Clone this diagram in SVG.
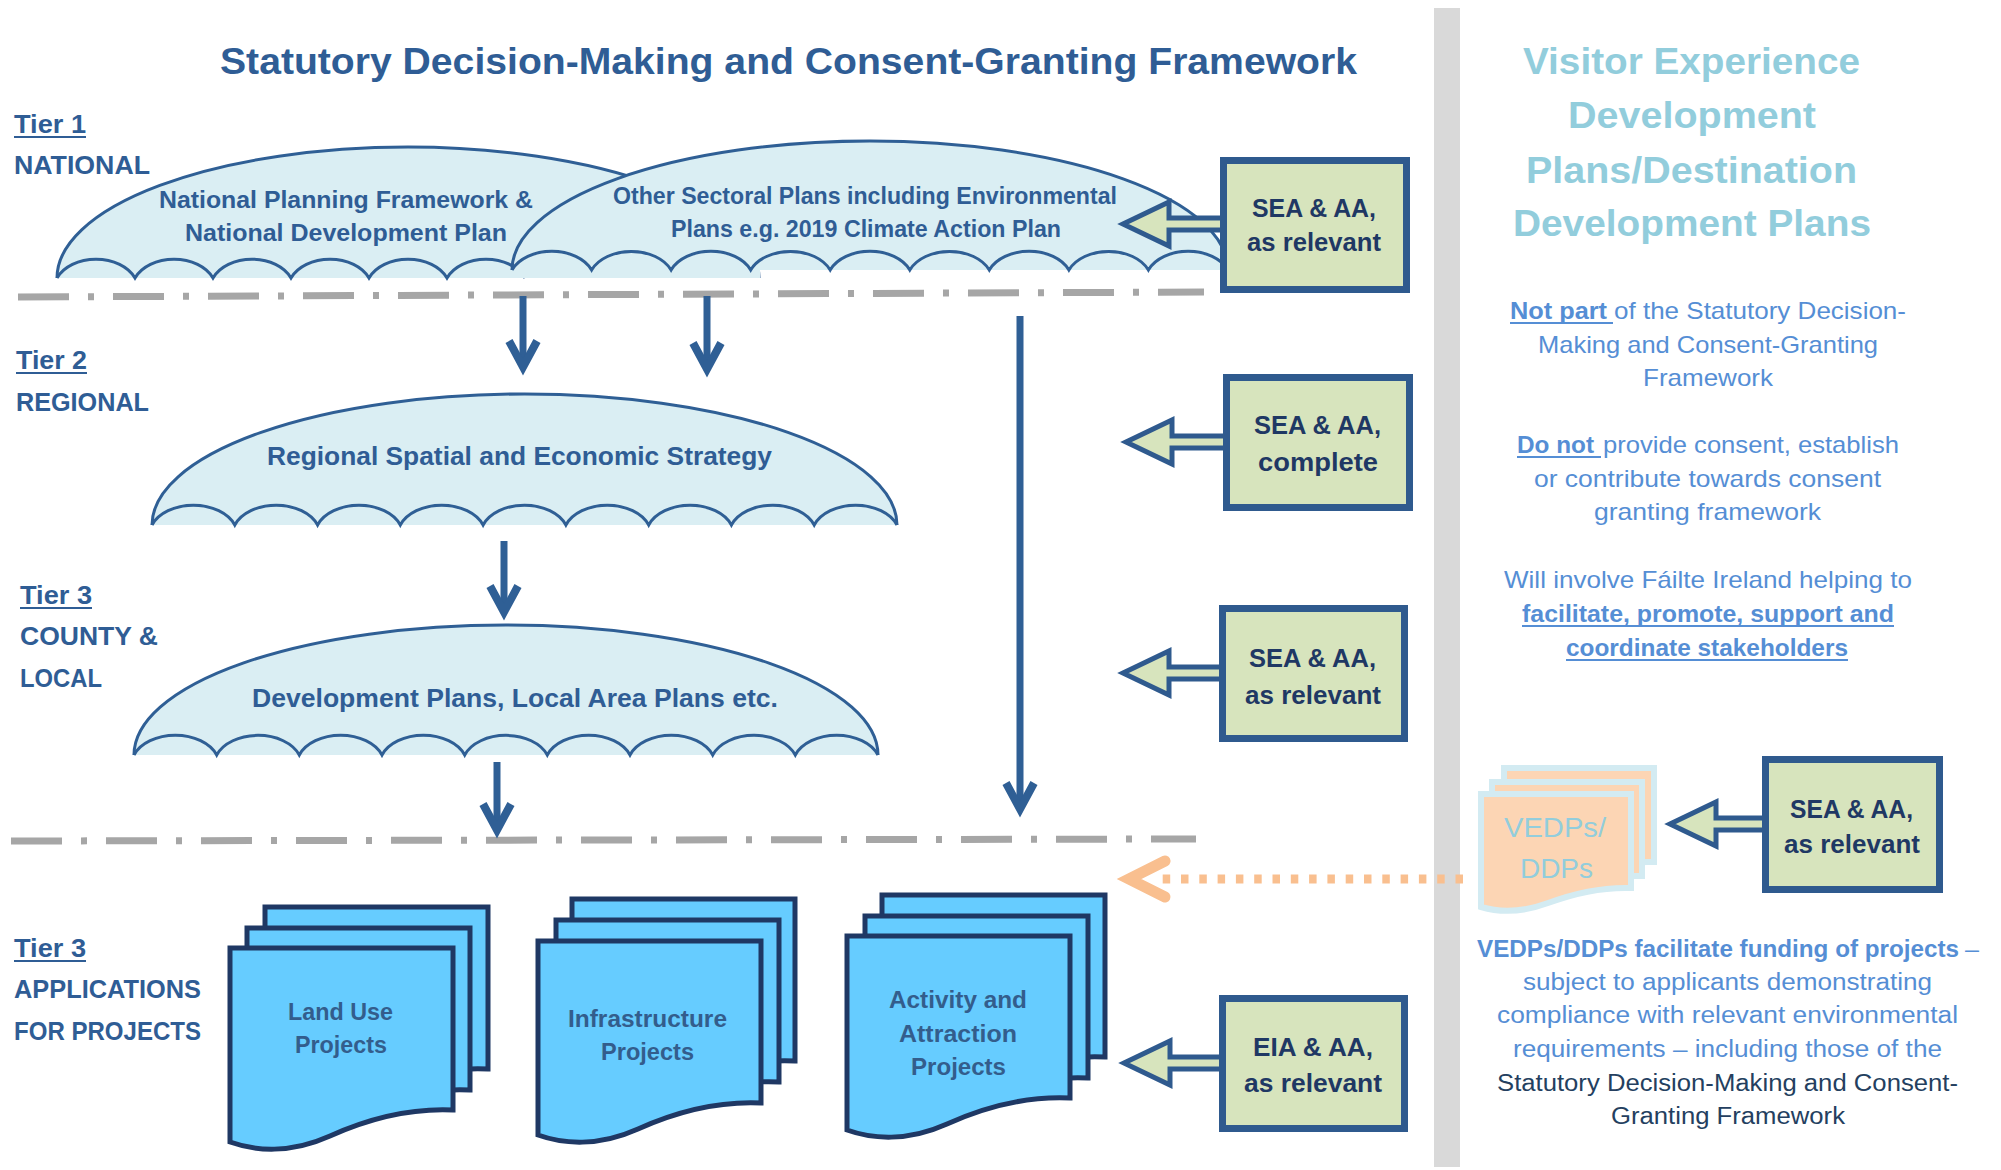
<svg xmlns="http://www.w3.org/2000/svg" xmlns:xlink="http://www.w3.org/1999/xlink" width="2001" height="1170" viewBox="0 0 2001 1170">
<style>
text{font-family:"Liberation Sans",Arial,sans-serif;}
.b{font-weight:bold}
.dk{fill:#2f5d95}
.tier{font-size:25px;font-weight:bold;fill:#2f5d95}
.ttl{font-size:36px;font-weight:bold}
.vis{fill:#92cddc}
.um{fill:#2f5d95;font-weight:bold}
.bxt{fill:#1f3864;font-size:25px;font-weight:bold}
.doct{fill:#335d8c;font-size:23px;font-weight:bold}
.p{fill:#558ed5;font-size:24px}
.p4{font-size:23px}
.nav{fill:#243f60}
.ul{stroke:#558ed5;stroke-width:2}
.tul{stroke:#2f5d95;stroke-width:2}
.dome{fill:#daeef3;stroke:none}
.domeline{fill:none;stroke:#2f5f95;stroke-width:3}
.box{fill:#d7e4bd;stroke:#2f5a8e;stroke-width:7}
.barrow{fill:#d7e4bd;stroke:#2f5a8e;stroke-width:5;stroke-linejoin:miter}
.doc{fill:#66ccff;stroke:#1f3864;stroke-width:5;stroke-linejoin:miter}
.vdoc{fill:#fcd5b4;stroke:#d3ebf2;stroke-width:6}
.dash{fill:none;stroke:#a6a6a6;stroke-width:7;stroke-dasharray:51 19 6 19}
.arr{fill:none;stroke:#2f5f95;stroke-width:7}
</style>
<defs>
<marker id="ah" markerUnits="userSpaceOnUse" viewBox="-40 -25 50 50" markerWidth="50" markerHeight="50" refX="0" refY="0" orient="auto" overflow="visible">
<path d="M-26,-14 L0,0 L-26,14" fill="none" stroke="#2f5f95" stroke-width="8" stroke-linejoin="miter"/>
</marker>
<path id="bar" d="M0,0 L46,-22 L46,-6 L106,-6 L106,6 L46,6 L46,22 Z"/>
<path id="pg" d="M0,0 H223 V162 C180,160 140,170 100,188 C60,206 25,203 0,194 Z"/>
<path id="vpg" d="M0,0 H150 V94 C121,93 94,99 67,109 C40,119 17,118 0,113 Z"/>
</defs>
<rect x="0" y="0" width="2001" height="1170" fill="#ffffff"/>
<rect id="divider" x="1434" y="8" width="26" height="1159" fill="#d9d9d9"/>

<g id="title">
<text class="ttl dk" x="220" y="74" textLength="1137" lengthAdjust="spacingAndGlyphs">Statutory Decision-Making and Consent-Granting Framework</text>
</g>

<g id="tier-labels">
<text class="tier" x="14" y="133" textLength="72" lengthAdjust="spacingAndGlyphs">Tier 1</text>
<line class="tul" x1="14" y1="137" x2="86" y2="137"/>
<text class="tier" x="14" y="174" textLength="136" lengthAdjust="spacingAndGlyphs">NATIONAL</text>
<text class="tier" x="16" y="369" textLength="71" lengthAdjust="spacingAndGlyphs">Tier 2</text>
<line class="tul" x1="16" y1="373" x2="87" y2="373"/>
<text class="tier" x="16" y="411" textLength="133" lengthAdjust="spacingAndGlyphs">REGIONAL</text>
<text class="tier" x="20" y="604" textLength="72" lengthAdjust="spacingAndGlyphs">Tier 3</text>
<line class="tul" x1="20" y1="608" x2="92" y2="608"/>
<text class="tier" x="20" y="645" textLength="138" lengthAdjust="spacingAndGlyphs">COUNTY &amp;</text>
<text class="tier" x="20" y="687" textLength="82" lengthAdjust="spacingAndGlyphs">LOCAL</text>
<text class="tier" x="14" y="957" textLength="72" lengthAdjust="spacingAndGlyphs">Tier 3</text>
<line class="tul" x1="14" y1="961" x2="86" y2="961"/>
<text class="tier" x="14" y="998" textLength="187" lengthAdjust="spacingAndGlyphs">APPLICATIONS</text>
<text class="tier" x="14" y="1040" textLength="187" lengthAdjust="spacingAndGlyphs">FOR PROJECTS</text>
</g>

<g id="umbrella-npf">
<path class="dome" d="M57,278 A351,131 0 0 1 759,278 Z"/>
<path class="domeline" d="M57,278 A351,131 0 0 1 759,278"/>
<path class="domeline" d="M57,278 A42,30 0 0 1 135,278 A42,30 0 0 1 213,278 A42,30 0 0 1 291,278 A42,30 0 0 1 369,278 A42,30 0 0 1 447,278 A42,30 0 0 1 525,278"/>
<text class="um" font-size="24" x="159" y="208" textLength="374" lengthAdjust="spacingAndGlyphs">National Planning Framework &amp;</text>
<text class="um" font-size="24" x="185" y="241" textLength="322" lengthAdjust="spacingAndGlyphs">National Development Plan</text>
</g>

<g id="umbrella-sectoral">
<path class="dome" d="M512,270 A358,129 0 0 1 1228,270 Z"/>
<rect class="dome" x="512" y="268" width="248" height="10"/>
<path class="domeline" d="M512,270 A358,129 0 0 1 1228,270"/>
<path class="domeline" d="M512,270 A43,30 0 0 1 591.6,270 A43,30 0 0 1 671.1,270 A43,30 0 0 1 750.7,270 A43,30 0 0 1 830.2,270 A43,30 0 0 1 909.8,270 A43,30 0 0 1 989.3,270 A43,30 0 0 1 1068.9,270 A43,30 0 0 1 1148.4,270 A43,30 0 0 1 1228,270"/>
<text class="um" font-size="24" x="613" y="204" textLength="504" lengthAdjust="spacingAndGlyphs">Other Sectoral Plans including Environmental</text>
<text class="um" font-size="24" x="671" y="237" textLength="390" lengthAdjust="spacingAndGlyphs">Plans e.g. 2019 Climate Action Plan</text>
</g>

<g id="umbrella-rses">
<path class="dome" d="M152,525 A372.5,131 0 0 1 897,525 Z"/>
<path class="domeline" d="M152,525 A372.5,131 0 0 1 897,525"/>
<path class="domeline" d="M152,525 A44,30 0 0 1 234.8,525 A44,30 0 0 1 317.6,525 A44,30 0 0 1 400.3,525 A44,30 0 0 1 483.1,525 A44,30 0 0 1 565.9,525 A44,30 0 0 1 648.7,525 A44,30 0 0 1 731.4,525 A44,30 0 0 1 814.2,525 A44,30 0 0 1 897,525"/>
<text class="um" font-size="25" x="267" y="465" textLength="505" lengthAdjust="spacingAndGlyphs">Regional Spatial and Economic Strategy</text>
</g>

<g id="umbrella-devplans">
<path class="dome" d="M134,755 A372,130 0 0 1 878,755 Z"/>
<path class="domeline" d="M134,755 A372,130 0 0 1 878,755"/>
<path class="domeline" d="M134,755 A44,30 0 0 1 216.7,755 A44,30 0 0 1 299.3,755 A44,30 0 0 1 382,755 A44,30 0 0 1 464.7,755 A44,30 0 0 1 547.3,755 A44,30 0 0 1 630,755 A44,30 0 0 1 712.7,755 A44,30 0 0 1 795.3,755 A44,30 0 0 1 878,755"/>
<text class="um" font-size="25" x="252" y="707" textLength="526" lengthAdjust="spacingAndGlyphs">Development Plans, Local Area Plans etc.</text>
</g>

<g id="connectors">
<path class="dash" d="M18,297 L1204,292"/>
<path class="dash" d="M11,841 L1196,839"/>
<line class="arr" x1="523" y1="296" x2="523" y2="367" marker-end="url(#ah)"/>
<line class="arr" x1="707" y1="296" x2="707" y2="369" marker-end="url(#ah)"/>
<line class="arr" x1="1020" y1="316" x2="1020" y2="809" marker-end="url(#ah)"/>
<line class="arr" x1="504" y1="541" x2="504" y2="612" marker-end="url(#ah)"/>
<line class="arr" x1="497" y1="762" x2="497" y2="830" marker-end="url(#ah)"/>
<line x1="1463" y1="879" x2="1160" y2="879" stroke="#f9bf8f" stroke-width="9" stroke-dasharray="7.5 10.8"/>
<path d="M1165,861 L1129,879 L1165,897" fill="none" stroke="#f9bf8f" stroke-width="11" stroke-linecap="round" stroke-linejoin="miter"/>
<use xlink:href="#bar" class="barrow" transform="translate(1123,224)"/>
<use xlink:href="#bar" class="barrow" transform="translate(1126,442)"/>
<use xlink:href="#bar" class="barrow" transform="translate(1123,673)"/>
<use xlink:href="#bar" class="barrow" transform="translate(1124,1063)"/>
<use xlink:href="#bar" class="barrow" transform="translate(1670,824)"/>
</g>

<g id="box-sea-national">
<rect class="box" x="1223.5" y="160.5" width="183" height="129"/>
<text class="bxt" x="1252" y="217" textLength="124" lengthAdjust="spacingAndGlyphs">SEA &amp; AA,</text>
<text class="bxt" x="1247" y="251" textLength="134" lengthAdjust="spacingAndGlyphs">as relevant</text>
</g>
<g id="box-sea-regional">
<rect class="box" x="1226.5" y="377.5" width="183" height="130"/>
<text class="bxt" x="1254" y="434" textLength="127" lengthAdjust="spacingAndGlyphs">SEA &amp; AA,</text>
<text class="bxt" x="1258" y="471" textLength="120" lengthAdjust="spacingAndGlyphs">complete</text>
</g>
<g id="box-sea-local">
<rect class="box" x="1222.5" y="608.5" width="182" height="130"/>
<text class="bxt" x="1249" y="667" textLength="127" lengthAdjust="spacingAndGlyphs">SEA &amp; AA,</text>
<text class="bxt" x="1245" y="704" textLength="136" lengthAdjust="spacingAndGlyphs">as relevant</text>
</g>
<g id="box-eia">
<rect class="box" x="1222.5" y="998.5" width="182" height="130"/>
<text class="bxt" x="1253" y="1056" textLength="120" lengthAdjust="spacingAndGlyphs">EIA &amp; AA,</text>
<text class="bxt" x="1244" y="1092" textLength="138" lengthAdjust="spacingAndGlyphs">as relevant</text>
</g>
<g id="box-sea-vedp">
<rect class="box" x="1765.5" y="759.5" width="174" height="130"/>
<text class="bxt" x="1790" y="818" textLength="123" lengthAdjust="spacingAndGlyphs">SEA &amp; AA,</text>
<text class="bxt" x="1784" y="853" textLength="136" lengthAdjust="spacingAndGlyphs">as relevant</text>
</g>

<g id="doc-landuse">
<use xlink:href="#pg" class="doc" transform="translate(265,907)"/>
<use xlink:href="#pg" class="doc" transform="translate(247,928)"/>
<use xlink:href="#pg" class="doc" transform="translate(230,948)"/>
<text class="doct" x="288" y="1020" textLength="105" lengthAdjust="spacingAndGlyphs">Land Use</text>
<text class="doct" x="295" y="1053" textLength="92" lengthAdjust="spacingAndGlyphs">Projects</text>
</g>
<g id="doc-infrastructure">
<use xlink:href="#pg" class="doc" transform="translate(572,899)"/>
<use xlink:href="#pg" class="doc" transform="translate(556,920)"/>
<use xlink:href="#pg" class="doc" transform="translate(538,941)"/>
<text class="doct" x="568" y="1027" textLength="159" lengthAdjust="spacingAndGlyphs">Infrastructure</text>
<text class="doct" x="601" y="1060" textLength="93" lengthAdjust="spacingAndGlyphs">Projects</text>
</g>
<g id="doc-activity">
<use xlink:href="#pg" class="doc" transform="translate(882,895)"/>
<use xlink:href="#pg" class="doc" transform="translate(865,916)"/>
<use xlink:href="#pg" class="doc" transform="translate(847,936)"/>
<text class="doct" x="889" y="1008" textLength="138" lengthAdjust="spacingAndGlyphs">Activity and</text>
<text class="doct" x="899" y="1042" textLength="118" lengthAdjust="spacingAndGlyphs">Attraction</text>
<text class="doct" x="911" y="1075" textLength="95" lengthAdjust="spacingAndGlyphs">Projects</text>
</g>
<g id="doc-vedps">
<use xlink:href="#vpg" class="vdoc" transform="translate(1504,768)"/>
<use xlink:href="#vpg" class="vdoc" transform="translate(1492,782)"/>
<use xlink:href="#vpg" class="vdoc" transform="translate(1481,794)"/>
<text class="vis" font-size="27" x="1504" y="837" textLength="102" lengthAdjust="spacingAndGlyphs">VEDPs/</text>
<text class="vis" font-size="27" x="1520" y="878" textLength="73" lengthAdjust="spacingAndGlyphs">DDPs</text>
</g>

<g id="visitor-title">
<text class="ttl vis" x="1523" y="74" textLength="337" lengthAdjust="spacingAndGlyphs">Visitor Experience</text>
<text class="ttl vis" x="1568" y="128" textLength="248" lengthAdjust="spacingAndGlyphs">Development</text>
<text class="ttl vis" x="1526" y="183" textLength="331" lengthAdjust="spacingAndGlyphs">Plans/Destination</text>
<text class="ttl vis" x="1513" y="236" textLength="358" lengthAdjust="spacingAndGlyphs">Development Plans</text>
</g>

<g id="notes">
<text class="p b" x="1510" y="319" textLength="97" lengthAdjust="spacingAndGlyphs">Not part</text>
<line class="ul" x1="1510" y1="323" x2="1613" y2="323"/>
<text class="p" x="1614" y="319" textLength="292" lengthAdjust="spacingAndGlyphs">of the Statutory Decision-</text>
<text class="p" x="1538" y="353" textLength="340" lengthAdjust="spacingAndGlyphs">Making and Consent-Granting</text>
<text class="p" x="1643" y="386" textLength="130" lengthAdjust="spacingAndGlyphs">Framework</text>

<text class="p b" x="1517" y="453" textLength="77" lengthAdjust="spacingAndGlyphs">Do not</text>
<line class="ul" x1="1517" y1="457" x2="1601" y2="457"/>
<text class="p" x="1603" y="453" textLength="296" lengthAdjust="spacingAndGlyphs">provide consent, establish</text>
<text class="p" x="1534" y="487" textLength="347" lengthAdjust="spacingAndGlyphs">or contribute towards consent</text>
<text class="p" x="1594" y="520" textLength="227" lengthAdjust="spacingAndGlyphs">granting framework</text>

<text class="p" x="1504" y="588" textLength="408" lengthAdjust="spacingAndGlyphs">Will involve Fáilte Ireland helping to</text>
<text class="p b" x="1522" y="622" textLength="372" lengthAdjust="spacingAndGlyphs">facilitate, promote, support and</text>
<line class="ul" x1="1522" y1="626" x2="1894" y2="626"/>
<text class="p b" x="1566" y="656" textLength="282" lengthAdjust="spacingAndGlyphs">coordinate stakeholders</text>
<line class="ul" x1="1566" y1="660" x2="1848" y2="660"/>

<text class="p p4 b" x="1477" y="957" textLength="482" lengthAdjust="spacingAndGlyphs">VEDPs/DDPs facilitate funding of projects</text>
<text class="p p4" x="1965" y="957" textLength="14" lengthAdjust="spacingAndGlyphs">–</text>
<text class="p p4" x="1523" y="990" textLength="409" lengthAdjust="spacingAndGlyphs">subject to applicants demonstrating</text>
<text class="p p4" x="1497" y="1023" textLength="461" lengthAdjust="spacingAndGlyphs">compliance with relevant environmental</text>
<text class="p p4" x="1513" y="1057" textLength="429" lengthAdjust="spacingAndGlyphs">requirements – including those of the</text>
<text class="p p4 nav" x="1497" y="1091" textLength="461" lengthAdjust="spacingAndGlyphs">Statutory Decision-Making and Consent-</text>
<text class="p p4 nav" x="1611" y="1124" textLength="234" lengthAdjust="spacingAndGlyphs">Granting Framework</text>
</g>
</svg>
